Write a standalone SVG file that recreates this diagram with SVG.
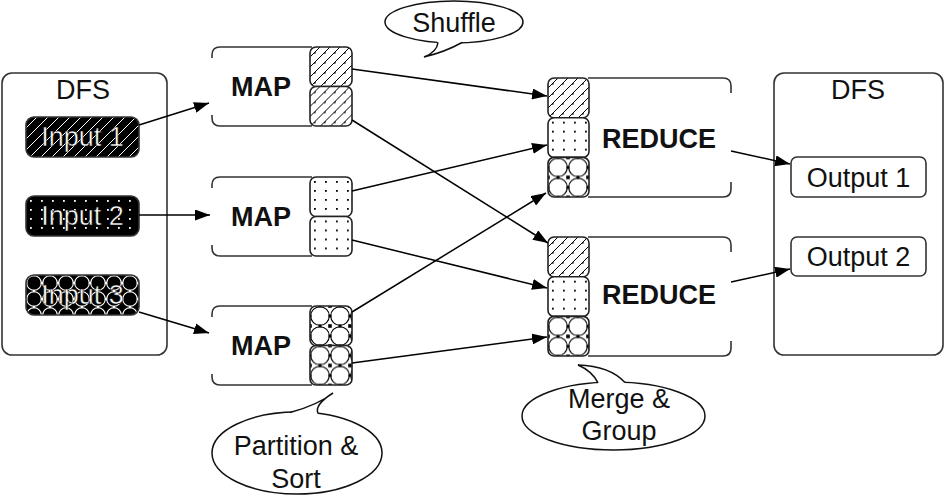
<svg xmlns="http://www.w3.org/2000/svg" width="950" height="496" viewBox="0 0 950 496">
<style>
  text { font-family: "Liberation Sans", Arial, Helvetica, sans-serif; font-size: 27px; fill: #111; text-anchor: middle; }
  .bold { font-weight: bold; }
  .inv { fill: #fff; stroke: #000; stroke-width: 0.5; }
  .box { fill: #fff; stroke: #333; stroke-width: 1.6; }
  .open { fill: none; stroke: #333; stroke-width: 1.6; }
  .part { stroke: #222; stroke-width: 1.6; }
  .ibox { stroke: #333; stroke-width: 1.6; }
  .conn { fill: none; stroke: #000; stroke-width: 1.5; marker-end: url(#arrow); }
  .bub { fill: #fff; stroke: #111; stroke-width: 1.5; }
  .tailfill { fill: #fff; stroke: none; }
  .tailline { fill: none; stroke: #111; stroke-width: 1.5; }
</style>
<defs>
  <marker id="arrow" markerUnits="userSpaceOnUse" markerWidth="15" markerHeight="11" refX="15" refY="5.5" orient="auto">
    <path d="M0,0 L15,5.5 L0,11 Z" fill="#000"/>
  </marker>
  <pattern id="hatch" width="10" height="10" patternUnits="userSpaceOnUse">
    <rect width="10" height="10" fill="#fff"/>
    <path d="M-3,3 L3,-3 M0,10 L10,0 M7,13 L13,7" stroke="#000" stroke-width="1"/>
    <rect x="4" y="5" width="1.6" height="1.6" fill="#000"/>
  </pattern>
  <pattern id="dots" width="11" height="9" patternUnits="userSpaceOnUse">
    <rect width="11" height="9" fill="#fff"/>
    <rect x="4" y="4" width="1.8" height="1.8" fill="#000"/>
  </pattern>
  <pattern id="cross" width="20" height="20" patternUnits="userSpaceOnUse">
    <rect width="20" height="20" fill="#fff"/>
    <circle cx="10" cy="10" r="9.3" fill="none" stroke="#000" stroke-width="1.1"/>
    <rect x="-1.8" y="-1.8" width="3.6" height="3.6" fill="#000"/>
    <rect x="18.2" y="-1.8" width="3.6" height="3.6" fill="#000"/>
    <rect x="-1.8" y="18.2" width="3.6" height="3.6" fill="#000"/>
    <rect x="18.2" y="18.2" width="3.6" height="3.6" fill="#000"/>
    <rect x="8.5" y="-1.5" width="3" height="3" fill="#000"/>
    <rect x="8.5" y="18.5" width="3" height="3" fill="#000"/>
    <rect x="-1.5" y="8.5" width="3" height="3" fill="#000"/>
    <rect x="18.5" y="8.5" width="3" height="3" fill="#000"/>
  </pattern>
  <pattern id="hatchInv" width="11" height="11" patternUnits="userSpaceOnUse">
    <rect width="11" height="11" fill="#000"/>
    <path d="M-3,3 L3,-3 M0,11 L11,0 M8,14 L14,8" stroke="#fff" stroke-width="1"/>
  </pattern>
  <pattern id="dotsInv" width="11" height="9" patternUnits="userSpaceOnUse">
    <rect width="11" height="9" fill="#000"/>
    <rect x="4" y="4" width="1.8" height="1.8" fill="#fff"/>
  </pattern>
  <pattern id="crossInv" width="16" height="16" patternUnits="userSpaceOnUse">
    <rect width="16" height="16" fill="#000"/>
    <circle cx="8" cy="8" r="7.3" fill="none" stroke="#fff" stroke-width="1.1"/>
    <rect x="6.8" y="-1.2" width="2.4" height="2.4" fill="#fff"/>
    <rect x="6.8" y="14.8" width="2.4" height="2.4" fill="#fff"/>
    <rect x="-1.2" y="6.8" width="2.4" height="2.4" fill="#fff"/>
    <rect x="14.8" y="6.8" width="2.4" height="2.4" fill="#fff"/>
  </pattern>
</defs>

<rect width="950" height="496" fill="#fff"/>

<!-- Input DFS -->
<g id="dfs-in">
  <rect class="box" x="2" y="73" width="165" height="282" rx="10"/>
  <text x="83" y="99">DFS</text>
</g>
<g id="input1" transform="translate(26,117)">
  <rect class="ibox" width="113" height="40" rx="8" fill="url(#hatchInv)"/>
  <text class="inv" x="56.5" y="29">Input 1</text>
</g>
<g id="input2" transform="translate(26,196)">
  <rect class="ibox" width="113" height="40" rx="8" fill="url(#dotsInv)"/>
  <text class="inv" x="56.5" y="29">Input 2</text>
</g>
<g id="input3" transform="translate(26,275)">
  <rect class="ibox" width="113" height="40" rx="8" fill="url(#crossInv)"/>
  <text class="inv" x="56.5" y="29">Input 3</text>
</g>

<!-- MAP nodes -->
<g id="map1" transform="translate(212,47)">
  <rect x="0" y="0" width="100" height="79" rx="8" fill="#fff"/>
  <path class="open" d="M0,11 V8 Q0,0 8,0 H100 M100,79 H8 Q0,79 0,71 V68"/>
  <g transform="translate(98,0)"><rect class="part" width="42" height="39.5" rx="6" fill="url(#hatch)"/></g>
  <g transform="translate(98,39.5)"><rect class="part" width="42" height="39.5" rx="6" fill="url(#hatch)"/></g>
  <text class="bold" x="49" y="49">MAP</text>
</g>
<g id="map2" transform="translate(212,177)">
  <rect x="0" y="0" width="100" height="79" rx="8" fill="#fff"/>
  <path class="open" d="M0,11 V8 Q0,0 8,0 H100 M100,79 H8 Q0,79 0,71 V68"/>
  <g transform="translate(98,0)"><rect class="part" width="42" height="39.5" rx="6" fill="url(#dots)"/></g>
  <g transform="translate(98,39.5)"><rect class="part" width="42" height="39.5" rx="6" fill="url(#dots)"/></g>
  <text class="bold" x="49" y="49">MAP</text>
</g>
<g id="map3" transform="translate(212,306)">
  <rect x="0" y="0" width="100" height="79" rx="8" fill="#fff"/>
  <path class="open" d="M0,11 V8 Q0,0 8,0 H100 M100,79 H8 Q0,79 0,71 V68"/>
  <g transform="translate(98,0)"><rect class="part" width="42" height="39.5" rx="6" fill="url(#cross)"/></g>
  <g transform="translate(98,39.5)"><rect class="part" width="42" height="39.5" rx="6" fill="url(#cross)"/></g>
  <text class="bold" x="49" y="49">MAP</text>
</g>

<!-- REDUCE nodes -->
<g id="reduce1" transform="translate(548,78)">
  <rect x="40" y="0" width="143" height="119" rx="8" fill="#fff"/>
  <path class="open" d="M40,0 H175 Q183,0 183,8 V15 M183,104 V111 Q183,119 175,119 H40"/>
  <g transform="translate(0,0)"><rect class="part" width="41" height="39.7" rx="6" fill="url(#hatch)"/></g>
  <g transform="translate(0,39.7)"><rect class="part" width="41" height="39.7" rx="6" fill="url(#dots)"/></g>
  <g transform="translate(0,79.4)"><rect class="part" width="41" height="39.6" rx="6" fill="url(#cross)"/></g>
  <text class="bold" x="111" y="69.5">REDUCE</text>
</g>
<g id="reduce2" transform="translate(548,237)">
  <rect x="40" y="0" width="143" height="119" rx="8" fill="#fff"/>
  <path class="open" d="M40,0 H175 Q183,0 183,8 V15 M183,104 V111 Q183,119 175,119 H40"/>
  <g transform="translate(0,0)"><rect class="part" width="41" height="39.7" rx="6" fill="url(#hatch)"/></g>
  <g transform="translate(0,39.7)"><rect class="part" width="41" height="39.7" rx="6" fill="url(#dots)"/></g>
  <g transform="translate(0,79.4)"><rect class="part" width="41" height="39.6" rx="6" fill="url(#cross)"/></g>
  <text class="bold" x="111" y="66.5">REDUCE</text>
</g>

<!-- Output DFS -->
<g id="dfs-out">
  <rect class="box" x="774" y="73" width="169" height="282" rx="10"/>
  <text x="858" y="99">DFS</text>
</g>
<g id="output1">
  <rect class="box" x="791" y="157" width="135" height="40" rx="6"/>
  <text x="858.5" y="186.5">Output 1</text>
</g>
<g id="output2">
  <rect class="box" x="791" y="237" width="135" height="39" rx="6"/>
  <text x="858.5" y="266">Output 2</text>
</g>

<!-- Connectors -->
<g id="connectors">
  <line class="conn" x1="139" y1="125" x2="209" y2="103"/>
  <line class="conn" x1="139" y1="215" x2="210" y2="215"/>
  <line class="conn" x1="139" y1="312" x2="209" y2="333"/>
  <line class="conn" x1="352" y1="69" x2="547" y2="96"/>
  <line class="conn" x1="352" y1="120" x2="548" y2="243"/>
  <line class="conn" x1="352" y1="191" x2="547" y2="145"/>
  <line class="conn" x1="352" y1="240" x2="547" y2="288"/>
  <line class="conn" x1="352" y1="312" x2="546" y2="193"/>
  <line class="conn" x1="352" y1="363" x2="547" y2="337"/>
  <line class="conn" x1="731" y1="151" x2="790" y2="164"/>
  <line class="conn" x1="731" y1="282" x2="790" y2="269"/>
</g>

<!-- Speech bubbles -->
<g id="bubble-shuffle">
  <ellipse class="bub" cx="454" cy="22" rx="69" ry="21"/>
  <path class="tailfill" d="M436,38 L438,43 Q437,52 424,57 Q445,52 462,43 L462,38 Z"/>
  <path class="tailline" d="M438,42.5 Q437,52 424,57 Q445,52 462,42.5"/>
  <text x="454" y="32">Shuffle</text>
</g>
<g id="bubble-partition">
  <ellipse class="bub" cx="297" cy="453" rx="85" ry="41"/>
  <path class="tailfill" d="M288,418 L290,412.5 Q318,405 333,393 Q314,405 318,413.5 L320,418 Z"/>
  <path class="tailline" d="M290,412.5 Q318,405 333,393 Q314,405 318,413.5"/>
  <text x="296" y="455">Partition &amp;</text>
  <text x="296" y="488">Sort</text>
</g>
<g id="bubble-merge">
  <ellipse class="bub" cx="613.5" cy="416" rx="91.5" ry="34"/>
  <path class="tailfill" d="M596,388 L598,382.8 Q592,371 578,365 Q610,366 625,382.6 L627,388 Z"/>
  <path class="tailline" d="M598,382.8 Q592,371 578,365 Q610,366 625,382.6"/>
  <text x="619" y="408">Merge &amp;</text>
  <text x="619" y="440">Group</text>
</g>
</svg>
